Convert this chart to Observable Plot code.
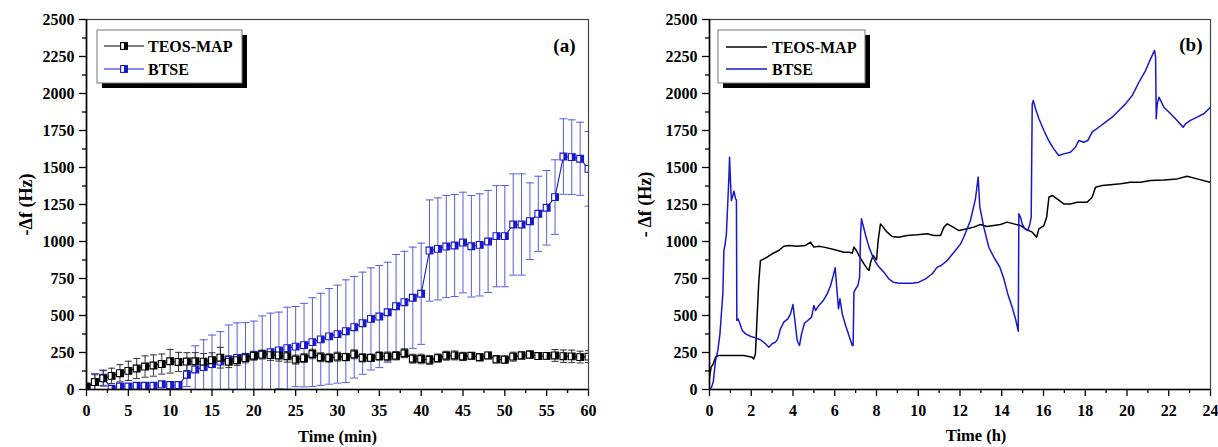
<!DOCTYPE html>
<html>
<head>
<meta charset="utf-8">
<script src="https://cdn.jsdelivr.net/npm/d3@7"></script>
<script src="https://cdn.jsdelivr.net/npm/@observablehq/plot@0.6"></script>
<style>
  html, body { margin: 0; padding: 0; background: #fff; }
  #wrap { position: relative; width: 1218px; height: 447px; overflow: hidden; font-family: "Liberation Serif", "Times New Roman", serif; }
  #wrap > .panel { position: absolute; top: 0; }
  #legend { position: absolute; left: 0; top: 0; pointer-events: none; }
</style>
</head>
<body>
<div id="wrap">
  <div class="panel" id="pa" style="left:0px"></div>
  <div class="panel" id="pb" style="left:605px"></div>
</div>
<script>
// ---------------- Panel (a) data: time in minutes ----------------
const minutes = [0,1,2,3,4,5,6,7,8,9,10,11,12,13,14,15,16,17,18,19,20,21,22,23,24,25,26,27,28,29,30,31,32,33,34,35,36,37,38,39,40,41,42,43,44,45,46,47,48,49,50,51,52,53,54,55,56,57,58,59,60];
const teosMean = [20,50,75,92,110,126,142,155,162,172,191,186,189,191,188,198,215,188,198,212,228,236,232,230,225,202,212,240,218,213,222,219,238,214,214,226,223,228,245,208,206,200,212,228,230,223,228,218,230,204,202,222,230,236,226,227,230,225,224,219,222];
const teosSd   = [15,50,52,52,58,65,68,72,72,68,80,65,60,58,55,50,70,40,35,32,30,30,35,38,40,30,30,32,30,28,30,25,30,28,25,28,30,28,30,30,32,30,28,30,30,28,22,25,22,25,25,30,25,25,22,22,40,42,42,40,40];
const btseMean = [0,50,80,5,20,20,25,25,25,35,30,30,100,135,151,172,189,200,214,220,230,238,252,264,279,290,300,320,339,359,374,394,421,448,477,493,522,563,590,620,647,939,950,966,973,993,968,977,1000,1036,1036,1115,1115,1137,1187,1228,1300,1574,1570,1559,1491];
const btseSd   = [0,58,52,15,15,15,15,15,15,15,15,15,80,160,185,196,202,236,236,232,232,259,264,259,277,271,282,300,311,323,331,347,343,345,345,345,338,349,344,342,342,342,345,345,345,340,343,345,345,342,342,342,342,259,254,252,252,255,252,247,252];

// ---------------- Panel (b) data: time in hours ----------------
const teosHours = [0,0.08,0.18,0.29,0.45,0.69,1.17,1.65,2.04,2.12,2.2,2.28,2.36,2.44,2.52,2.76,3.0,3.32,3.56,3.8,4.2,4.6,4.84,5.0,5.24,5.48,5.96,6.44,6.68,6.84,6.92,7.04,7.2,7.4,7.56,7.64,7.72,7.84,8.0,8.08,8.19,8.32,8.51,8.75,9.07,9.47,9.95,10.43,10.75,11.07,11.23,11.39,11.63,11.95,12.34,12.66,12.98,13.29,13.61,13.94,14.26,14.58,14.9,15.22,15.46,15.67,15.78,16.02,16.15,16.26,16.42,16.65,16.97,17.29,17.61,18.09,18.33,18.49,18.81,19.21,19.69,20.17,20.65,21.13,21.77,22.4,22.88,23.36,23.97,24];
const teosShift = [83,151,173,218,230,230,230,230,218,207,241,489,725,872,876,894,917,939,968,973,968,973,995,962,968,962,946,928,928,921,962,939,894,849,815,804,860,905,876,1007,1119,1097,1063,1034,1029,1041,1045,1052,1041,1041,1097,1119,1101,1074,1086,1097,1115,1101,1108,1115,1131,1119,1108,1079,1063,1029,1086,1108,1164,1299,1311,1288,1254,1254,1265,1265,1299,1367,1378,1383,1390,1401,1401,1412,1416,1423,1441,1423,1401,1400];
const btseHours = [0,0.1,0.18,0.29,0.4,0.5,0.58,0.64,0.69,0.75,0.81,0.88,0.93,0.96,1.01,1.05,1.12,1.17,1.25,1.29,1.31,1.37,1.45,1.57,1.73,1.96,2.2,2.44,2.68,2.84,3.0,3.16,3.27,3.4,3.56,3.75,3.88,4.0,4.09,4.2,4.31,4.41,4.55,4.71,4.89,5.0,5.08,5.24,5.45,5.64,5.8,5.93,6.02,6.12,6.18,6.25,6.36,6.52,6.68,6.84,6.88,6.92,7.0,7.11,7.19,7.24,7.28,7.36,7.48,7.64,7.8,7.96,8.12,8.35,8.59,8.8,9.07,9.39,9.71,10.03,10.35,10.67,10.91,11.1,11.39,11.71,12.03,12.18,12.5,12.74,12.87,12.95,13.14,13.38,13.62,13.91,14.1,14.29,14.5,14.66,14.79,14.82,14.9,14.98,15.1,15.25,15.35,15.41,15.46,15.51,15.62,15.78,16.02,16.25,16.49,16.73,16.97,17.29,17.53,17.69,17.93,18.12,18.33,18.65,18.97,19.29,19.61,19.93,20.25,20.57,20.89,21.13,21.32,21.37,21.4,21.45,21.53,21.77,22.09,22.4,22.69,22.8,23.04,23.36,23.68,23.97];
const btseShift = [0,16,50,196,264,376,534,646,939,984,1052,1277,1435,1570,1390,1277,1311,1340,1288,1281,466,477,448,399,376,360,349,336,309,286,309,320,342,410,455,477,511,574,466,331,297,376,448,466,489,568,534,568,601,646,703,770,822,646,545,613,511,432,365,297,297,658,680,703,759,1052,1153,1108,1041,962,905,860,827,793,748,725,718,718,718,725,748,782,827,838,872,928,984,1029,1142,1288,1435,1232,1097,961,894,826,748,646,556,477,394,1187,1164,1119,1086,1074,1119,1164,1930,1953,1897,1829,1750,1682,1626,1581,1592,1603,1637,1682,1671,1682,1739,1772,1806,1840,1885,1930,1986,2076,2155,2234,2291,2245,1829,1930,1975,1907,1863,1818,1772,1795,1818,1840,1863,1903];

// tick values and labels
const yMajor = [0,250,500,750,1000,1250,1500,1750,2000,2250,2500];
const yMinor = [125,375,625,875,1125,1375,1625,1875,2125,2375];
const xMajorA = [0,5,10,15,20,25,30,35,40,45,50,55,60];
const xMinorA = [2.5,7.5,12.5,17.5,22.5,27.5,32.5,37.5,42.5,47.5,52.5,57.5];
const xMajorB = [0,2,4,6,8,10,12,14,16,18,20,22,24];
const xMinorB = [1,3,5,7,9,11,13,15,17,19,21,23];
const seriesNames = ["TEOS-MAP", "BTSE"];
const yTitleA = "-\u0394f (Hz)";
const yTitleB = "- \u0394f (Hz)";
const xTitleA = "Time (min)";
const xTitleB = "Time (h)";

// ---------------- styles ----------------
const BLUE = "#1818cc";
const ERRBLUE = "#5a5ae2";
const BLACK = "#000";
const ERRBLACK = "#333";
const FONT = "Liberation Serif";

// custom symbols
const rOf = size => Math.sqrt(size / Math.PI);
const squareSym = { draw(c, s) { const r = rOf(s); c.moveTo(-r, -r); c.lineTo(r, -r); c.lineTo(r, r); c.lineTo(-r, r); c.closePath(); } };
const halfSym = { draw(c, s) { const r = rOf(s); c.moveTo(0, -r); c.lineTo(r, -r); c.lineTo(r, r); c.lineTo(0, r); c.closePath(); } };
const capSym = { draw(c, s) { const r = rOf(s); c.moveTo(-r, 0); c.lineTo(r, 0); } };

const fmt = d => String(d);

function axes(xMajor, xMinor) {
  return [
    Plot.axisY(yMajor, {tickSize: 7, tickPadding: 5, tickFormat: fmt, fontSize: 16, fontWeight: "bold", strokeWidth: 1.3, label: null}),
    Plot.axisY(yMinor, {tickSize: 4, tickFormat: () => "", strokeWidth: 1.3, label: null}),
    Plot.axisX(xMajor, {tickSize: 7, tickPadding: 8, tickFormat: fmt, fontSize: 16, fontWeight: "bold", strokeWidth: 1.3, label: null}),
    Plot.axisX(xMinor, {tickSize: 4, tickFormat: () => "", strokeWidth: 1.3, label: null}),
  ];
}

function frameMarks(xDomainStart) {
  return [
    Plot.frame({stroke: "#444", strokeWidth: 1.2}),
    Plot.ruleX([xDomainStart], {stroke: BLACK, strokeWidth: 1.6}),
    Plot.ruleY([0], {stroke: BLACK, strokeWidth: 1.6}),
  ];
}

// ---------------- Panel (a) ----------------
const teosRows = minutes.map((t, i) => ({t, m: teosMean[i], s: teosSd[i]}));
const btseRows = minutes.map((t, i) => ({t, m: btseMean[i], s: btseSd[i]}));

function errMarks(rows, color, capR) {
  return [
    Plot.ruleX(rows.filter(d => d.s > 0), {x: "t", y1: d => Math.max(0, d.m - d.s), y2: d => d.m + d.s, stroke: color, strokeWidth: 1, clip: true}),
    Plot.dot(rows.filter(d => d.s > 0), {x: "t", y: d => d.m + d.s, symbol: capSym, r: capR, stroke: color, fill: "none", strokeWidth: 1, clip: true}),
    Plot.dot(rows.filter(d => d.s > 0 && d.m - d.s >= 0), {x: "t", y: d => d.m - d.s, symbol: capSym, r: capR, stroke: color, fill: "none", strokeWidth: 1, clip: true}),
  ];
}
function markerMarks(rows, color) {
  return [
    Plot.dot(rows, {x: "t", y: "m", symbol: squareSym, r: 3.4, stroke: color, fill: "white", strokeWidth: 1.1, clip: true}),
    Plot.dot(rows, {x: "t", y: "m", symbol: halfSym, r: 3.4, fill: color, stroke: "none", clip: true}),
  ];
}

const plotA = Plot.plot({
  width: 605, height: 447,
  marginLeft: 86, marginRight: 17, marginTop: 19, marginBottom: 58,
  style: {fontFamily: FONT, fontWeight: "bold", fontSize: "15px", color: "#000", background: "white"},
  x: {domain: [0, 60], axis: null},
  y: {domain: [0, 2500], axis: null},
  marks: [
    ...errMarks(btseRows, ERRBLUE, 4),
    ...errMarks(teosRows, ERRBLACK, 3.5),
    Plot.line(btseRows, {x: "t", y: "m", stroke: BLUE, strokeWidth: 1.1, clip: true}),
    Plot.line(teosRows, {x: "t", y: "m", stroke: BLACK, strokeWidth: 1.1, clip: true}),
    ...markerMarks(btseRows, BLUE),
    ...markerMarks(teosRows, BLACK),
    ...axes(xMajorA, xMinorA),
    ...frameMarks(0),
    Plot.text([yTitleA], {frameAnchor: "left", dx: -60, rotate: -90, textAnchor: "middle", lineAnchor: "middle", fontSize: 18, fontWeight: "bold"}),
    Plot.text([xTitleA], {frameAnchor: "bottom", dy: 47, textAnchor: "middle", lineAnchor: "middle", fontSize: 16.5, fontWeight: "bold"}),
    Plot.text(["(a)"], {frameAnchor: "top-right", dx: -13, dy: 26, textAnchor: "end", lineAnchor: "middle", fontSize: 19, fontWeight: "bold"}),
  ]
});
document.getElementById("pa").appendChild(plotA);

// ---------------- Panel (b) ----------------
const teosB = teosHours.map((t, i) => ({t, v: teosShift[i]}));
const btseB = btseHours.map((t, i) => ({t, v: btseShift[i]}));

const plotB = Plot.plot({
  width: 613, height: 447,
  marginLeft: 104, marginRight: 8, marginTop: 19, marginBottom: 58,
  style: {fontFamily: FONT, fontWeight: "bold", fontSize: "15px", color: "#000", background: "white"},
  x: {domain: [0, 24], axis: null},
  y: {domain: [0, 2500], axis: null},
  marks: [
    Plot.line(teosB, {x: "t", y: "v", stroke: BLACK, strokeWidth: 1.5, clip: true}),
    Plot.line(btseB, {x: "t", y: "v", stroke: BLUE, strokeWidth: 1.5, clip: true}),
    ...axes(xMajorB, xMinorB),
    ...frameMarks(0),
    Plot.text([yTitleB], {frameAnchor: "left", dx: -64, rotate: -90, textAnchor: "middle", lineAnchor: "middle", fontSize: 18, fontWeight: "bold"}),
    Plot.text([xTitleB], {frameAnchor: "bottom", dy: 46, dx: 16, textAnchor: "middle", lineAnchor: "middle", fontSize: 16.5, fontWeight: "bold"}),
    Plot.text(["(b)"], {frameAnchor: "top-right", dx: -8, dy: 25, textAnchor: "end", lineAnchor: "middle", fontSize: 19, fontWeight: "bold"}),
  ]
});
document.getElementById("pb").appendChild(plotB);

// ---------------- Legends (overlay) ----------------
const NS = "http://www.w3.org/2000/svg";
const lg = document.createElementNS(NS, "svg");
lg.setAttribute("id", "legend");
lg.setAttribute("width", 1218);
lg.setAttribute("height", 447);
document.getElementById("wrap").appendChild(lg);
function el(tag, attrs, text) {
  const e = document.createElementNS(NS, tag);
  for (const k in attrs) e.setAttribute(k, attrs[k]);
  if (text != null) e.textContent = text;
  lg.appendChild(e);
  return e;
}
function legend(x, y, w, h, lx1, lx2, tx, rows, withMarker) {
  el("rect", {x: x + 5, y: y + 5, width: w, height: h, fill: "#000"});
  el("rect", {x, y, width: w, height: h, fill: "#fff", stroke: "#777", "stroke-width": 1});
  const colors = [BLACK, BLUE];
  rows.forEach((ry, i) => {
    el("line", {x1: lx1, x2: lx2, y1: ry, y2: ry, stroke: colors[i], "stroke-width": withMarker ? 1.1 : 1.6});
    if (withMarker) {
      const cx = (lx1 + lx2) / 2;
      el("rect", {x: cx - 3.4, y: ry - 3.4, width: 6.8, height: 6.8, fill: "#fff", stroke: colors[i], "stroke-width": 1.1});
      el("rect", {x: cx, y: ry - 3.4, width: 3.4, height: 6.8, fill: colors[i]});
    }
    el("text", {x: tx, y: ry, "dominant-baseline": "central", "font-family": FONT, "font-weight": "bold", "font-size": 16, fill: "#000"}, seriesNames[i]);
  });
}
legend(97, 30, 145, 53, 104, 144, 148, [46, 69], true);
legend(718, 30, 147, 53, 726, 767, 772, [47, 69], false);
</script>
</body>
</html>
